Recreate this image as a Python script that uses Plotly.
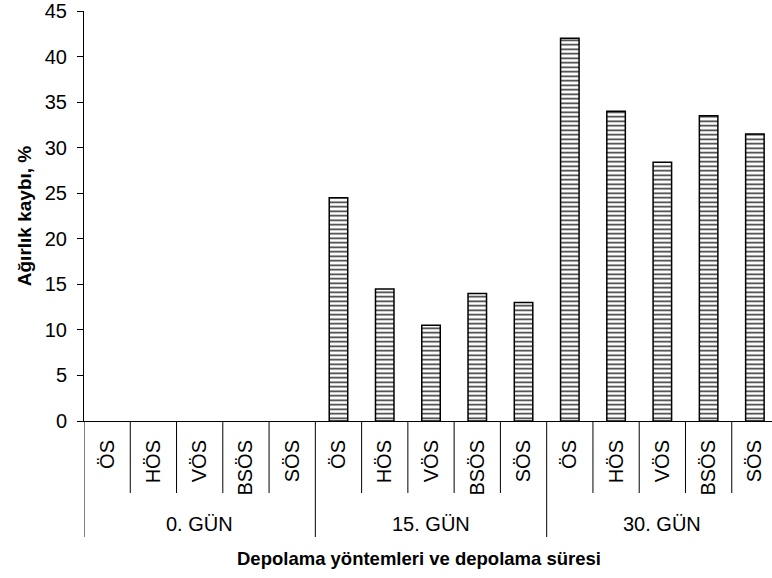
import plotly.graph_objects as go

groups = ["0. GÜN", "15. GÜN", "30. GÜN"]
methods = ["ÖS", "HÖS", "VÖS", "BSÖS", "SÖS"]
values_0 = [0, 0, 0, 0, 0]
values_15 = [24.5, 14.5, 10.5, 14.0, 13.0]
values_30 = [42.0, 34.0, 28.4, 33.5, 31.5]
x_title = "Depolama yöntemleri ve depolama süresi"
y_title = "Ağırlık kaybı, %"

keys, labels, yv = [], [], []
for g, vals in zip(groups, [values_0, values_15, values_30]):
    for m, v in zip(methods, vals):
        keys.append(g + " " + m)
        labels.append(m)
        yv.append(v if v != 0 else None)

FONT = "Liberation Sans, Arial, sans-serif"
PLOT_H = 410.0  # plot height in px
PLOT_W = 688.0  # plot width in px

fig = go.Figure()
fig.add_trace(go.Bar(
    x=keys, y=yv, width=0.4,
    marker=dict(color="white",
                line=dict(color="black", width=1.5),
                pattern=dict(shape="-", fgcolor="#333333", bgcolor="white",
                             size=4.5, solidity=0.35, fillmode="replace")),
    showlegend=False,
))

n = len(keys)
ng = len(methods)
for k in range(n + 1):
    y1 = -116 / PLOT_H if k % ng == 0 else -72 / PLOT_H
    fig.add_shape(type="line", xref="x", yref="paper",
                  x0=k - 0.5, x1=k - 0.5, y0=0, y1=y1,
                  line=dict(color="black", width=1))

for i, g in enumerate(groups):
    fig.add_annotation(x=i * ng + (ng - 1) / 2, xref="x",
                       y=-103 / PLOT_H, yref="paper", text=g,
                       showarrow=False, font=dict(size=20),
                       xanchor="center", yanchor="middle")

fig.add_annotation(x=(419 - 84) / PLOT_W, xref="paper",
                   y=-137 / PLOT_H, yref="paper",
                   text="<b>" + x_title + "</b>", showarrow=False,
                   font=dict(size=18.5), xanchor="center", yanchor="middle")

fig.update_layout(
    width=772, height=578,
    margin=dict(l=84, r=0, t=11, b=157),
    paper_bgcolor="white", plot_bgcolor="white",
    font=dict(family=FONT, size=20, color="black"),
    xaxis=dict(type="category", range=[-0.5, 14.37],
               tickvals=keys, ticktext=labels,
               tickfont=dict(family=FONT, size=20, color="black"),
               showline=True, linecolor="black", linewidth=1,
               ticks="", tickangle=-90, ticklabelstandoff=10,
               showgrid=False),
    yaxis=dict(range=[0, 45], dtick=5, showline=True, linecolor="black",
               linewidth=1, ticks="outside", ticklen=6, tickcolor="black",
               tickfont=dict(family=FONT, size=20, color="black"),
               showgrid=False, zeroline=False, ticklabelstandoff=6,
               title=dict(text="<b>" + y_title + "</b>", font=dict(size=19),
                          standoff=8)),
)

fig.write_html("out.html")
